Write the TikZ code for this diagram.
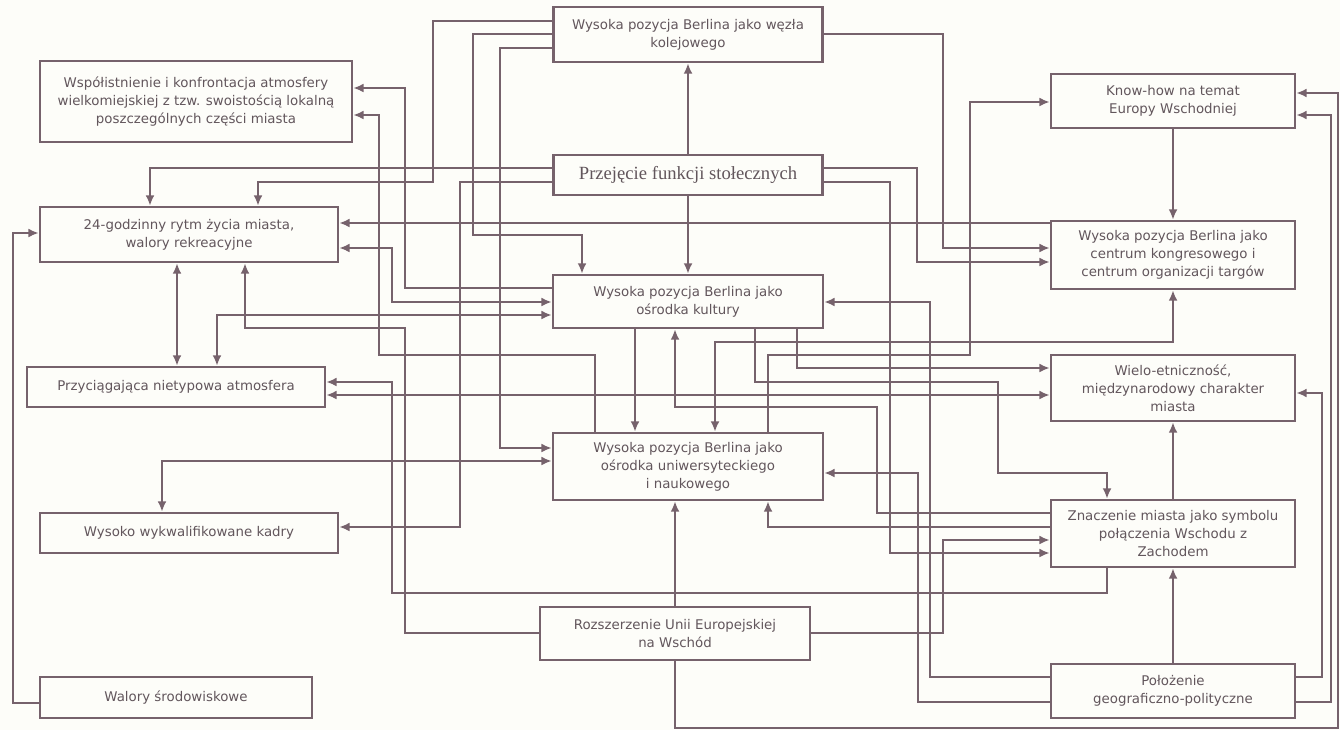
\documentclass[tikz,border=0pt]{standalone}
\usepackage{fontspec}
\setmainfont{DejaVu Sans}
\newfontfamily\serifbox{Liberation Serif}
\usepackage{tikz}
\usetikzlibrary{arrows.meta}
\definecolor{lnk}{RGB}{118,98,108}
\definecolor{txt}{RGB}{98,86,92}
\definecolor{paper}{RGB}{253,253,249}

\begin{document}
\begin{tikzpicture}[
  x=0.02cm, y=-0.02cm,
  box/.style={draw=lnk, line width=1.4pt, text=txt, align=center, inner sep=0pt,
    font=\fontsize{7.6}{10.3}\selectfont},
  every path/.append style={line width=1.4pt},
  >={Latex[length=2.1mm, width=1.8mm]}
]
\fill[paper] (0,0) rectangle (1340,730);
\useasboundingbox (0,0) rectangle (1340,730);

% Nodes
\node[box, minimum width=6.24cm, minimum height=1.62cm] (wspol) at (196,101.5)
  {Współistnienie i konfrontacja atmosfery\\wielkomiejskiej z tzw. swoistością lokalną\\poszczególnych części miasta};
\node[box, minimum width=5.96cm, minimum height=1.1cm] (rytm) at (189,234.5)
  {24-godzinny rytm życia miasta,\\walory rekreacyjne};
\node[box, minimum width=5.96cm, minimum height=0.8cm] (przyc) at (176,387)
  {Przyciągająca nietypowa atmosfera};
\node[box, minimum width=5.96cm, minimum height=0.8cm] (kadry) at (189,533)
  {Wysoko wykwalifikowane kadry};
\node[box, minimum width=5.44cm, minimum height=0.82cm] (walory) at (176,697.5)
  {Walory środowiskowe};

\node[box, minimum width=5.38cm, minimum height=1.1cm] (wezel) at (688,34.5)
  {Wysoka pozycja Berlina jako węzła\\kolejowego};
\node[box, minimum width=5.38cm, minimum height=0.8cm, font=\serifbox\fontsize{10.6}{12}\selectfont] (przej) at (688,175)
  {Przejęcie funkcji stołecznych};
\node[box, minimum width=5.4cm, minimum height=1.06cm] (kult) at (688,301.5)
  {Wysoka pozycja Berlina jako\\ośrodka kultury};
\node[box, minimum width=5.4cm, minimum height=1.34cm] (uniw) at (688,466.5)
  {Wysoka pozycja Berlina jako\\ośrodka uniwersyteckiego\\i naukowego};
\node[box, minimum width=5.4cm, minimum height=1.06cm] (rozsz) at (675,633.5)
  {Rozszerzenie Unii Europejskiej\\na Wschód};

\node[box, minimum width=4.88cm, minimum height=1.08cm] (know) at (1173,101)
  {Know-how na temat\\Europy Wschodniej};
\node[box, minimum width=4.88cm, minimum height=1.36cm] (kongr) at (1173,255)
  {Wysoka pozycja Berlina jako\\centrum kongresowego i\\centrum organizacji targów};
\node[box, minimum width=4.88cm, minimum height=1.32cm] (wielo) at (1173,388)
  {Wielo-etniczność,\\międzynarodowy charakter\\miasta};
\node[box, minimum width=4.88cm, minimum height=1.34cm] (znacz) at (1173,533.5)
  {Znaczenie miasta jako symbolu\\połączenia Wschodu z\\Zachodem};
\node[box, minimum width=4.88cm, minimum height=1.08cm] (poloz) at (1173,691)
  {Położenie\\geograficzno-polityczne};

% Arrows
\begin{scope}[draw=lnk]
% from Przejecie
\draw[->] (przej.north) -- (wezel.south);
\draw[->] (przej.south) -- (kult.north);
\draw[->] (przej.west |- 0,168) -| (rytm.north -| 150,0);
\draw[->] (przej.west |- 0,182) -| (460,527) -- (kadry.east |- 0,527);
\draw[->] (przej.east |- 0,168) -| (917,262) -- (kongr.west |- 0,262);
\draw[->] (przej.east |- 0,182) -| (890,553) -- (znacz.west |- 0,553);
% from Wezel
\draw[->] (wezel.west |- 0,21) -| (433,182) -| (rytm.north -| 258,0);
\draw[->] (wezel.west |- 0,34) -| (473,235) -| (kult.north -| 582,0);
\draw[->] (wezel.west |- 0,48) -| (500,448) -- (uniw.west |- 0,448);
\draw[->] (wezel.east |- 0,34) -| (943,248) -- (kongr.west |- 0,248);
% right column
\draw[->] (know.south) -- (kongr.north);
\draw[->] (kongr.west |- 0,223) -- (rytm.east |- 0,223);
\draw[->] (znacz.north) -- (wielo.south);
\draw[->] (poloz.north) -- (znacz.south);
\draw[->] (poloz.east |- 0,677) -| (1322,393) -- (wielo.east |- 0,393);
\draw[->] (poloz.east |- 0,702) -| (1331,115) -- (know.east |- 0,115);
\draw[->] (poloz.west |- 0,677) -| (930,302) -- (kult.east |- 0,302);
\draw[->] (poloz.west |- 0,702) -| (918,473) -- (uniw.east |- 0,473);
\draw[->] (znacz.west |- 0,513) -| (877,407) -| (kult.south -| 675,0);
\draw[->] (znacz.west |- 0,527) -| (uniw.south -| 768,0);
\draw[->] (znacz.south -| 1107,0) |- (392,593) |- (przyc.east |- 0,382);
% from Kultura and Uniw
\draw[->] (kult.west |- 0,288) -| (405,88) -- (wspol.east |- 0,88);
\draw[->] (uniw.north -| 595,0) |- (379,355) |- (wspol.east |- 0,115);
\draw[->] (uniw.north -| 768,0) |- (970,355) |- (know.west |- 0,102);
\draw[->] (kult.south -| 635,0) -- (uniw.north -| 635,0);
\draw[->] (kult.south -| 755,0) |- (998,382) |- (1107,473) -- (znacz.north -| 1107,0);
\draw[->] (kult.south -| 797,0) |- (wielo.west |- 0,368);
\draw[<->] (uniw.north -| 715,0) |- (1173,342) -- (kongr.south);
% two-way links on the left
\draw[<->] (rytm.east |- 0,248) -| (392,302) -- (kult.west |- 0,302);
\draw[<->] (przyc.north -| 217,0) |- (kult.west |- 0,315);
\draw[<->] (rytm.south -| 177,0) -- (przyc.north -| 177,0);
\draw[<->] (przyc.east |- 0,395) -- (wielo.west |- 0,395);
\draw[<->] (kadry.north -| 162,0) |- (uniw.west |- 0,461);
\draw[->] (walory.west |- 0,703) -| (13,233) -- (rytm.west |- 0,233);
% from Rozszerzenie
\draw[->] (rozsz.north) -- (uniw.south -| rozsz.north);
\draw[->] (rozsz.west |- 0,633) -| (405,328) -| (rytm.south -| 245,0);
\draw[->] (rozsz.east |- 0,633) -| (943,540) -- (znacz.west |- 0,540);
\draw[->] (rozsz.south) |- (1338,728) |- (know.east |- 0,93);
\end{scope}
\end{tikzpicture}
\end{document}
